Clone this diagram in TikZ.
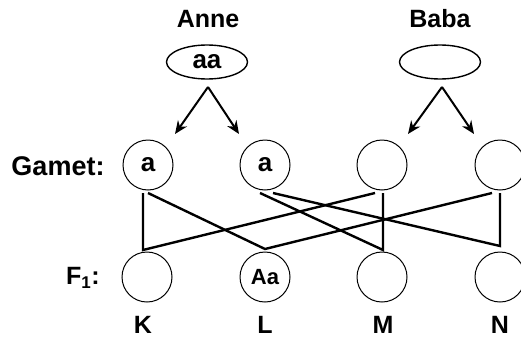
\documentclass[tikz,border=0pt]{standalone}
\usepackage{fontspec}
\setmainfont{Liberation Sans}
\usetikzlibrary{arrows.meta,shapes.geometric}
\begin{document}
\begin{tikzpicture}[x=1pt,y=-1pt,
  lbl/.style={font=\fontsize{25}{27}\selectfont\bfseries, inner sep=0pt},
  inner/.style={font=\fontsize{26}{28}\selectfont\bfseries},
  innersm/.style={font=\fontsize{22}{24}\selectfont\bfseries},
  gcirc/.style={circle, draw, line width=1pt, minimum size=50pt, inner sep=0pt},
  pell/.style={ellipse, draw, line width=1.4pt, minimum width=81pt, minimum height=34pt, inner sep=0pt},
  arr/.style={line width=2pt, -{Stealth[length=13pt,width=11pt]}},
  link/.style={line width=2.4pt, line join=miter}]
\useasboundingbox (0,0) rectangle (521,340);
% parents
\node[lbl] (anne) at (208,19) {Anne};
\node[lbl] (baba) at (440,19) {Baba};
\node[pell, inner] (pa) at (207,62) {aa};
\node[pell] (pb) at (440,62) {};
% arrows
\coordinate (aa0) at (208,87);
\coordinate (aa1) at (175,134);
\coordinate (aa2) at (239,134);
\coordinate (ba0) at (442,87);
\coordinate (ba1) at (408,134);
\coordinate (ba2) at (474,134);
\draw[arr] (aa0) -- (aa1);
\draw[arr] (aa0) -- (aa2);
\draw[arr] (ba0) -- (ba1);
\draw[arr] (ba0) -- (ba2);
% gametes
\node[lbl, font=\fontsize{27}{29}\selectfont\bfseries] (gamet) at (58,166) {Gamet:};
\node[gcirc, inner] (g1) at (148,165) {a};
\node[gcirc, inner] (g2) at (265,165) {a};
\node[gcirc] (g3) at (382,165) {};
\node[gcirc] (g4) at (500,165) {};
% F1
\node[lbl] (f1) at (83,278) {F\textsubscript{\fontsize{17}{19}\selectfont 1}:};
\node[gcirc] (k) at (147,277) {};
\node[gcirc, innersm] (l) at (265,277) {Aa};
\node[gcirc] (m) at (382,277) {};
\node[gcirc] (n) at (500,277) {};
\node[lbl] (kl) at (143,325) {K};
\node[lbl] (ll) at (265,325) {L};
\node[lbl] (ml) at (383,325) {M};
\node[lbl] (nl) at (500,325) {N};
% links
\coordinate (k0) at (143,250);
\coordinate (l0) at (265,249);
\coordinate (m0) at (383,250);
\coordinate (n0) at (500,246);
\coordinate (g1a) at (143,193);
\coordinate (g1b) at (148,193);
\coordinate (g2a) at (260,193);
\coordinate (g2b) at (273,193);
\coordinate (g3a) at (375,193);
\coordinate (g3b) at (383,193);
\coordinate (g4a) at (492,193);
\coordinate (g4b) at (500,193);
\draw[link] (g1a) -- (k0) -- (g3a);
\draw[link] (g1b) -- (l0) -- (g4a);
\draw[link] (g2a) -- (m0) -- (g3b);
\draw[link] (g2b) -- (n0) -- (g4b);
\end{tikzpicture}
\end{document}
